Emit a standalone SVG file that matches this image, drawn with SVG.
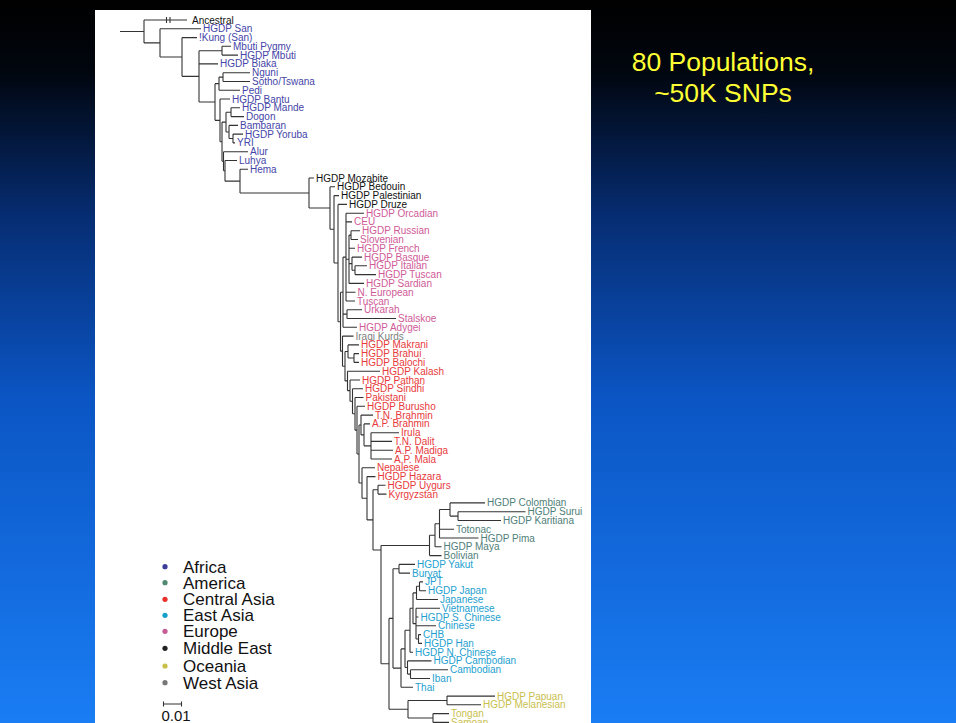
<svg xmlns="http://www.w3.org/2000/svg" width="956" height="723" viewBox="0 0 956 723">
<defs>
<linearGradient id="bg" x1="0" y1="0" x2="0" y2="1">
<stop offset="0" stop-color="#000000"/>
<stop offset="0.1" stop-color="#01060f"/>
<stop offset="0.3" stop-color="#062d73"/>
<stop offset="0.55" stop-color="#0b55c4"/>
<stop offset="1" stop-color="#1a7df4"/>
</linearGradient>
<style>
.t{font-family:"Liberation Sans",Arial,sans-serif;font-size:10px}
.af{fill:#4545a8}.me{fill:#111}.eu{fill:#cf5a98}.wa{fill:#808080}.ca{fill:#e83a3c}.am{fill:#4f8079}.ea{fill:#1e9fcf}.oc{fill:#c9c04c}
.br{fill:none;stroke:#333;stroke-width:1.1}
.lg{font-family:"Liberation Sans",Arial,sans-serif;font-size:17px;fill:#111}
.ttl{font-family:"Liberation Sans",Arial,sans-serif;font-size:26.5px;fill:#ffff33;text-anchor:middle}
</style>
</defs>
<rect x="0" y="0" width="956" height="723" fill="url(#bg)"/>
<rect x="95" y="10" width="496" height="713" fill="#ffffff"/>
<g id="title">
<text class="ttl" x="723" y="71">80 Populations,</text>
<text class="ttl" x="723" y="102">~50K SNPs</text>
</g>
<g id="connectors" class="br">
<path d="M120 31.45 H144 M144 20 V42.9 M144 20 H187 M166.5 17 V23 M170 17 V23"/>
<path d="M144 42.9 H160 M160 28.8 V57 M160 28.8 H201"/>
<path d="M160 57 H182 M182 37.6 V76.35 M182 37.6 H197"/>
<path d="M182 76.35 H199 M199 50.7 V102 M199 63.9 H218"/>
<path d="M199 50.7 H222 M222 46.3 V55.1 M222 46.3 H231 M222 55.1 H238"/>
<path d="M199 102 H215 M215 83.65 V120.35"/>
<path d="M215 83.65 H219 M219 77.1 V90.2 M219 90.2 H240"/>
<path d="M219 77.1 H223 M223 72.7 V81.5 M223 72.7 H250 M223 81.5 H250"/>
<path d="M215 120.35 H220 M220 99 V141.7 M220 99 H230"/>
<path d="M220 141.7 H222 M222 122.1 V161.25"/>
<path d="M222 122.1 H226 M226 112.2 V131.95"/>
<path d="M226 112.2 H231 M231 107.8 V116.6 M231 107.8 H240 M231 116.6 H244"/>
<path d="M226 131.95 H229 M229 125.4 V138.5 M229 125.4 H238"/>
<path d="M229 138.5 H233 M233 134.1 V142.9 M233 134.1 H243 M233 142.9 H235"/>
<path d="M222 161.25 H223.5 M223.5 151.7 V170.8 M223.5 151.7 H248"/>
<path d="M223.5 170.8 H225 M225 160.5 V181.15 M225 160.5 H237"/>
<path d="M225 181.15 H240 M240 169.3 V193 M240 169.3 H248"/>
<path d="M240 193 H309 M309 178 V208.05 M309 178 H314"/>
<path d="M309 208.05 H330 M330 186.8 V229.3 M330 186.8 H335"/>
<path d="M330 229.3 H334 M334 195.6 V263.05 M334 195.6 H339"/>
<path d="M334 263.05 H338 M338 204.4 V321.7 M338 204.4 H347"/>
<path d="M338 321.7 H340.5 M340.5 292.2 V351.15"/>
<path d="M340.5 292.2 H343 M343 257.1 V327.3 M343 327.3 H357"/>
<path d="M343 257.1 H346 M346 213.2 V301 M346 213.2 H364 M346 221.9 H352 M346 292.2 H355.5 M346 301 H355"/>
<path d="M346 259.25 H349 M349 235.1 V283.4 M349 248.3 H355 M349 283.4 H364"/>
<path d="M349 235.1 H351 M351 230.7 V239.5 M351 230.7 H360 M351 239.5 H358"/>
<path d="M349 263.65 H352 M352 257.1 V270.2 M352 257.1 H362"/>
<path d="M352 270.2 H355 M355 265.8 V274.6 M355 265.8 H367 M355 274.6 H376"/>
<path d="M343 314.1 H347 M347 309.7 V318.5 M347 309.7 H362 M347 318.5 H396"/>
<path d="M340.5 351.15 H342.5 M342.5 336.1 V366.2 M342.5 336.1 H353.5"/>
<path d="M342.5 366.2 H345 M345 351.45 V380.9"/>
<path d="M345 351.45 H348 M348 344.9 V358 M348 344.9 H359"/>
<path d="M348 358 H354 M354 353.6 V362.4 M354 353.6 H359 M354 362.4 H359"/>
<path d="M345 380.9 H347.5 M347.5 371.2 V390.65 M347.5 371.2 H380"/>
<path d="M347.5 390.65 H350 M350 380 V401.3 M350 380 H360"/>
<path d="M350 401.3 H352.5 M352.5 388.8 V413.8 M352.5 388.8 H363"/>
<path d="M352.5 413.8 H355 M355 397.5 V430.15 M355 397.5 H363.5"/>
<path d="M355 430.15 H357 M357 406.3 V454 M357 406.3 H365"/>
<path d="M357 454 H359 M359 425 V483"/>
<path d="M359 425 H361 M361 415.1 V434.9 M361 415.1 H373"/>
<path d="M361 434.9 H364 M364 423.9 V445.85 M364 423.9 H370"/>
<path d="M364 445.85 H371 M371 432.7 V459 M371 432.7 H399 M371 441.4 H392 M371 450.2 H393 M371 459 H392"/>
<path d="M359 483 H362 M362 467.8 V498.2 M362 467.8 H375"/>
<path d="M362 498.2 H367 M367 476.6 V519.9 M367 476.6 H375.5"/>
<path d="M367 519.9 H373 M373 489.7 V550"/>
<path d="M373 489.7 H378 M378 485.3 V494.1 M378 485.3 H385.5 M378 494.1 H386.5"/>
<path d="M373 550 H381 M381 545.45 V663.8"/>
<path d="M381 545.45 H429.5 M429.5 535.3 V555.6 M429.5 555.6 H441.5"/>
<path d="M429.5 535.3 H435 M435 523.75 V546.8 M435 546.8 H441.5"/>
<path d="M435 523.75 H439.5 M439.5 509.5 V538 M439.5 529.2 H454 M439.5 538 H478.5"/>
<path d="M439.5 509.5 H450 M450 502.9 V516.1 M450 502.9 H485"/>
<path d="M450 516.1 H458 M458 511.7 V520.5 M458 511.7 H525.5 M458 520.5 H501"/>
<path d="M381 663.8 H389 M389 618.4 V709.2"/>
<path d="M389 618.4 H393 M393 568.75 V668.1"/>
<path d="M393 568.75 H399 M399 564.4 V573.1 M399 564.4 H415 M399 573.1 H410"/>
<path d="M393 668.1 H401 M401 648.9 V687.3 M401 687.3 H413"/>
<path d="M401 648.9 H405 M405 630.25 V667.5"/>
<path d="M405 630.25 H410 M410 608.3 V652.2 M410 652.2 H413"/>
<path d="M410 608.3 H413 M413 592.9 V623.65"/>
<path d="M413 592.9 H416.5 M416.5 586.3 V599.5 M416.5 599.5 H438"/>
<path d="M416.5 586.3 H419.5 M419.5 581.9 V590.7 M419.5 581.9 H423 M419.5 590.7 H426"/>
<path d="M413 623.65 H416 M416 608.3 V639 M416 608.3 H440 M416 617 H418.5 M416 625.8 H436"/>
<path d="M416 639 H418.5 M418.5 634.6 V643.4 M418.5 634.6 H421 M418.5 643.4 H422"/>
<path d="M405 667.5 H407.5 M407.5 660.9 V674.1 M407.5 660.9 H431.5"/>
<path d="M407.5 674.1 H410.5 M410.5 669.7 V678.5 M410.5 669.7 H448 M410.5 678.5 H430"/>
<path d="M389 709.2 H408 M408 700.45 V718"/>
<path d="M408 700.45 H447 M447 696.1 V704.8 M447 696.1 H495 M447 704.8 H481"/>
<path d="M408 718 H433 M433 713.6 V722.4 M433 713.6 H449 M433 722.4 H449"/>
</g>
<g id="n-ancestral"><text class="t me" x="192" y="23.5">Ancestral</text></g>
<g id="n-san"><text class="t af" x="203" y="32.3">HGDP San</text></g>
<g id="n-kung"><text class="t af" x="199" y="41.1">!Kung (San)</text></g>
<g id="n-mbutipygmy"><text class="t af" x="233" y="49.8">Mbuti Pygmy</text></g>
<g id="n-mbuti"><text class="t af" x="240" y="58.6">HGDP Mbuti</text></g>
<g id="n-biaka"><text class="t af" x="220" y="67.4">HGDP Biaka</text></g>
<g id="n-nguni"><text class="t af" x="252" y="76.2">Nguni</text></g>
<g id="n-sotho"><text class="t af" x="252" y="85">Sotho/Tswana</text></g>
<g id="n-pedi"><text class="t af" x="242" y="93.7">Pedi</text></g>
<g id="n-bantu"><text class="t af" x="232" y="102.5">HGDP Bantu</text></g>
<g id="n-mande"><text class="t af" x="242" y="111.3">HGDP Mande</text></g>
<g id="n-dogon"><text class="t af" x="246" y="120.1">Dogon</text></g>
<g id="n-bambaran"><text class="t af" x="240" y="128.9">Bambaran</text></g>
<g id="n-yoruba"><text class="t af" x="245" y="137.6">HGDP Yoruba</text></g>
<g id="n-yri"><text class="t af" x="237" y="146.4">YRI</text></g>
<g id="n-alur"><text class="t af" x="250" y="155.2">Alur</text></g>
<g id="n-luhya"><text class="t af" x="239" y="164">Luhya</text></g>
<g id="n-hema"><text class="t af" x="250" y="172.8">Hema</text></g>
<g id="n-mozabite"><text class="t me" x="316" y="181.5">HGDP Mozabite</text></g>
<g id="n-bedouin"><text class="t me" x="337" y="190.3">HGDP Bedouin</text></g>
<g id="n-palestinian"><text class="t me" x="341" y="199.1">HGDP Palestinian</text></g>
<g id="n-druze"><text class="t me" x="349" y="207.9">HGDP Druze</text></g>
<g id="n-orcadian"><text class="t eu" x="366" y="216.7">HGDP Orcadian</text></g>
<g id="n-ceu"><text class="t eu" x="354" y="225.4">CEU</text></g>
<g id="n-russian"><text class="t eu" x="362" y="234.2">HGDP Russian</text></g>
<g id="n-slovenian"><text class="t eu" x="360" y="243">Slovenian</text></g>
<g id="n-french"><text class="t eu" x="357" y="251.8">HGDP French</text></g>
<g id="n-basque"><text class="t eu" x="364" y="260.6">HGDP Basque</text></g>
<g id="n-italian"><text class="t eu" x="369" y="269.3">HGDP Italian</text></g>
<g id="n-tuscanh"><text class="t eu" x="378" y="278.1">HGDP Tuscan</text></g>
<g id="n-sardian"><text class="t eu" x="366" y="286.9">HGDP Sardian</text></g>
<g id="n-neuropean"><text class="t eu" x="357.5" y="295.7">N. European</text></g>
<g id="n-tuscan"><text class="t eu" x="357" y="304.5">Tuscan</text></g>
<g id="n-urkarah"><text class="t eu" x="364" y="313.2">Urkarah</text></g>
<g id="n-stalskoe"><text class="t eu" x="398" y="322">Stalskoe</text></g>
<g id="n-adygei"><text class="t eu" x="359" y="330.8">HGDP Adygei</text></g>
<g id="n-iraqikurds"><text class="t wa" x="355.5" y="339.6">Iraqi Kurds</text></g>
<g id="n-makrani"><text class="t ca" x="361" y="348.4">HGDP Makrani</text></g>
<g id="n-brahui"><text class="t ca" x="361" y="357.1">HGDP Brahui</text></g>
<g id="n-balochi"><text class="t ca" x="361" y="365.9">HGDP Balochi</text></g>
<g id="n-kalash"><text class="t ca" x="382" y="374.7">HGDP Kalash</text></g>
<g id="n-pathan"><text class="t ca" x="362" y="383.5">HGDP Pathan</text></g>
<g id="n-sindhi"><text class="t ca" x="365" y="392.3">HGDP Sindhi</text></g>
<g id="n-pakistani"><text class="t ca" x="365.5" y="401">Pakistani</text></g>
<g id="n-burusho"><text class="t ca" x="367" y="409.8">HGDP Burusho</text></g>
<g id="n-tnbrahmin"><text class="t ca" x="375" y="418.6">T.N. Brahmin</text></g>
<g id="n-apbrahmin"><text class="t ca" x="372" y="427.4">A.P. Brahmin</text></g>
<g id="n-irula"><text class="t ca" x="401" y="436.2">Irula</text></g>
<g id="n-tndalit"><text class="t ca" x="394" y="444.9">T.N. Dalit</text></g>
<g id="n-apmadiga"><text class="t ca" x="395" y="453.7">A.P. Madiga</text></g>
<g id="n-apmala"><text class="t ca" x="394" y="462.5">A.P. Mala</text></g>
<g id="n-nepalese"><text class="t ca" x="377" y="471.3">Nepalese</text></g>
<g id="n-hazara"><text class="t ca" x="377.5" y="480.1">HGDP Hazara</text></g>
<g id="n-uygurs"><text class="t ca" x="387.5" y="488.8">HGDP Uygurs</text></g>
<g id="n-kyrgyzstan"><text class="t ca" x="388.5" y="497.6">Kyrgyzstan</text></g>
<g id="n-colombian"><text class="t am" x="487" y="506.4">HGDP Colombian</text></g>
<g id="n-surui"><text class="t am" x="527.5" y="515.2">HGDP Surui</text></g>
<g id="n-karitiana"><text class="t am" x="503" y="524">HGDP Karitiana</text></g>
<g id="n-totonac"><text class="t am" x="456" y="532.7">Totonac</text></g>
<g id="n-pima"><text class="t am" x="480.5" y="541.5">HGDP Pima</text></g>
<g id="n-maya"><text class="t am" x="443.5" y="550.3">HGDP Maya</text></g>
<g id="n-bolivian"><text class="t am" x="443.5" y="559.1">Bolivian</text></g>
<g id="n-yakut"><text class="t ea" x="417" y="567.9">HGDP Yakut</text></g>
<g id="n-buryat"><text class="t ea" x="412" y="576.6">Buryat</text></g>
<g id="n-jpt"><text class="t ea" x="425" y="585.4">JPT</text></g>
<g id="n-japan"><text class="t ea" x="428" y="594.2">HGDP Japan</text></g>
<g id="n-japanese"><text class="t ea" x="440" y="603">Japanese</text></g>
<g id="n-vietnamese"><text class="t ea" x="442" y="611.8">Vietnamese</text></g>
<g id="n-schinese"><text class="t ea" x="420.5" y="620.5">HGDP S. Chinese</text></g>
<g id="n-chinese"><text class="t ea" x="438" y="629.3">Chinese</text></g>
<g id="n-chb"><text class="t ea" x="423" y="638.1">CHB</text></g>
<g id="n-han"><text class="t ea" x="424" y="646.9">HGDP Han</text></g>
<g id="n-nchinese"><text class="t ea" x="415" y="655.7">HGDP N. Chinese</text></g>
<g id="n-hgdpcambodian"><text class="t ea" x="433.5" y="664.4">HGDP Cambodian</text></g>
<g id="n-cambodian"><text class="t ea" x="450" y="673.2">Cambodian</text></g>
<g id="n-iban"><text class="t ea" x="432" y="682">Iban</text></g>
<g id="n-thai"><text class="t ea" x="415" y="690.8">Thai</text></g>
<g id="n-papuan"><text class="t oc" x="497" y="699.6">HGDP Papuan</text></g>
<g id="n-melanesian"><text class="t oc" x="483" y="708.3">HGDP Melanesian</text></g>
<g id="n-tongan"><text class="t oc" x="451" y="717.1">Tongan</text></g>
<g id="n-samoan"><text class="t oc" x="451" y="725.9">Samoan</text></g>
<g id="legend">
<circle cx="165" cy="566.7" r="2.6" fill="#3d3d9a"/><text class="lg" x="183" y="572.6">Africa</text>
<circle cx="165" cy="582.7" r="2.6" fill="#4f8a70"/><text class="lg" x="183" y="588.6">America</text>
<circle cx="165" cy="599.3" r="2.6" fill="#e8312a"/><text class="lg" x="183" y="605.2">Central Asia</text>
<circle cx="165" cy="615.3" r="2.6" fill="#16a0cc"/><text class="lg" x="183" y="621.2">East Asia</text>
<circle cx="165" cy="631.3" r="2.6" fill="#c75b96"/><text class="lg" x="183" y="637.2">Europe</text>
<circle cx="165" cy="648.3" r="2.6" fill="#222222"/><text class="lg" x="183" y="654.2">Middle East</text>
<circle cx="165" cy="666" r="2.6" fill="#c8c04a"/><text class="lg" x="183" y="671.9">Oceania</text>
<circle cx="165" cy="682.7" r="2.6" fill="#777777"/><text class="lg" x="183" y="688.6">West Asia</text>
<path d="M163.5 704 H181.5 M163.5 701.5 V706.5 M181.5 701.5 V706.5" fill="none" stroke="#333" stroke-width="1.1"/>
<text class="lg" x="161.5" y="720.5" style="font-size:15px">0.01</text>
</g>
</svg>
